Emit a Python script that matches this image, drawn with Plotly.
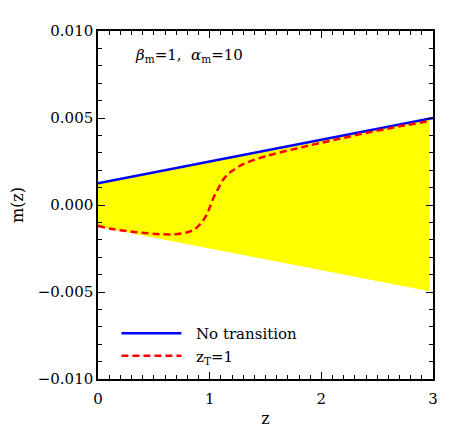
import plotly.graph_objects as go

# bounds of the allowed band (straight lines)
band_z = [0.0, 2.97]
band_upper = [0.00125, 0.00496]
band_lower = [-0.00125, -0.00496]

# no-transition model
notr_z = [0.0, 3.0]
notr_m = [0.00125, 0.005]

# z_T = 1 model
zt_z = [0.0, 0.1, 0.27, 0.45, 0.57, 0.67, 0.75, 0.82, 0.87, 0.93, 0.97, 1.0,
        1.04, 1.08, 1.12, 1.16, 1.21, 1.3, 1.5, 1.8, 2.1, 2.4, 2.7, 2.97]
zt_m = [-0.00121, -0.00135, -0.00151, -0.00163, -0.00168, -0.00169, -0.00164,
        -0.00153, -0.00138, -0.00098, -0.0006, -0.00015, 0.0005, 0.00098,
        0.00145, 0.00175, 0.002, 0.00235, 0.0028, 0.00328, 0.00372, 0.00414,
        0.00452, 0.00483]

FONT = "DejaVu Serif"
PAD = "\u00a0\u00a0"

fig = go.Figure()

fig.add_trace(go.Scatter(x=band_z, y=band_lower, mode="lines",
                         line=dict(width=0, color="yellow"),
                         showlegend=False, hoverinfo="skip"))
fig.add_trace(go.Scatter(x=band_z, y=band_upper, mode="lines",
                         line=dict(width=0, color="yellow"),
                         fill="tonexty", fillcolor="#ffff00",
                         showlegend=False, hoverinfo="skip"))

fig.add_trace(go.Scatter(x=notr_z, y=notr_m, mode="lines",
                         name=PAD + "No transition",
                         line=dict(color="#0000ff", width=2.5)))
fig.add_trace(go.Scatter(x=zt_z, y=zt_m, mode="lines",
                         name=PAD + "z<sub>T</sub>=1", line_shape="spline",
                         line=dict(color="#ff0000", width=2.5, dash="7px,4px")))

axis_common = dict(
    showgrid=False, zeroline=False, automargin=False,
    showline=True, linecolor="black", linewidth=1.5,
    mirror="allticks", ticks="inside", ticklen=7, tickwidth=1, tickcolor="black",
    tickfont=dict(family=FONT, size=15, color="black"),
)

fig.update_xaxes(range=[0, 3], dtick=1, ticklabelstandoff=5,
                 title=dict(text="z", font=dict(family=FONT, size=16, color="black"), standoff=6),
                 minor=dict(dtick=0.1, ticks="inside", ticklen=4, tickcolor="black"),
                 **axis_common)
fig.update_yaxes(range=[-0.01, 0.01], dtick=0.005, tickformat=".3f",
                 title=dict(text="m(z)", font=dict(family=FONT, size=16, color="black"), standoff=24),
                 minor=dict(dtick=0.001, ticks="inside", ticklen=4, tickcolor="black"),
                 **axis_common)

fig.add_annotation(x=0.103, y=0.93, xref="paper", yref="paper",
                   xanchor="left", yanchor="middle", showarrow=False,
                   text="<i>β</i><sub>m</sub>=1,  <i>α</i><sub>m</sub>=10",
                   font=dict(family=FONT, size=15, color="black"))

# page body adds an 8px offset, so margins are shifted to compensate
fig.update_layout(
    width=463, height=442,
    margin=dict(l=90, r=38, t=23, b=71),
    paper_bgcolor="white", plot_bgcolor="white",
    legend=dict(x=0.055, y=0.02, xanchor="left", yanchor="bottom",
                traceorder="normal", itemwidth=60,
                bgcolor="rgba(0,0,0,0)", tracegroupgap=0,
                font=dict(family=FONT, size=15, color="black")),
)

fig.write_html("out.html")
